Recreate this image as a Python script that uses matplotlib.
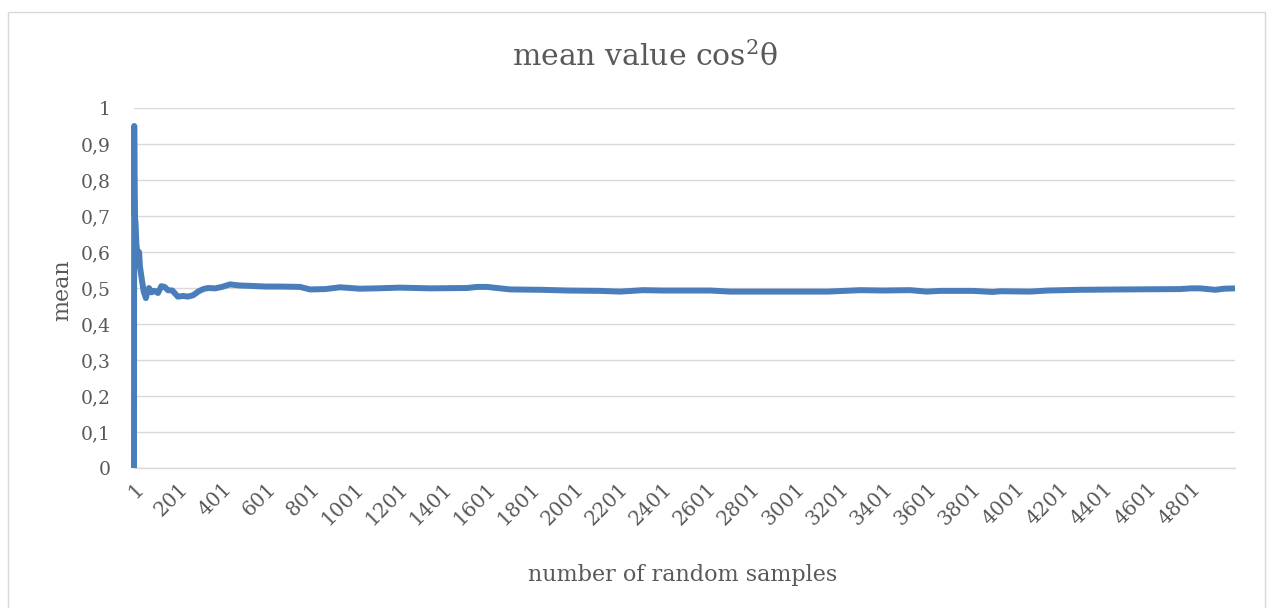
import matplotlib
matplotlib.use("Agg")
import matplotlib.pyplot as plt
from matplotlib.patches import Rectangle

# ---- data ----
samples = [1, 2, 3, 5, 8, 12, 16, 20, 24, 28, 35, 45, 55, 62, 69, 80, 95, 110,
           125, 140, 155, 175, 200, 225, 245, 270, 292, 315, 337, 370, 400, 437,
           480, 528, 600, 664, 755, 800, 870, 937, 1027, 1100, 1209, 1350, 1513,
           1560, 1604, 1709, 1850, 1967, 2117, 2208, 2313, 2400, 2495, 2617, 2708,
           2850, 3025, 3150, 3298, 3400, 3525, 3600, 3661, 3811, 3900, 3934, 4070,
           4150, 4297, 4500, 4751, 4800, 4842, 4910, 4950, 5000]
means = [0.0, 0.95, 0.82, 0.70, 0.68, 0.62, 0.60, 0.58, 0.60, 0.56, 0.53, 0.49,
         0.472, 0.49, 0.50, 0.488, 0.492, 0.486, 0.505, 0.503, 0.494, 0.493,
         0.476, 0.478, 0.476, 0.480, 0.490, 0.497, 0.500, 0.499, 0.503, 0.510,
         0.507, 0.506, 0.504, 0.504, 0.503, 0.496, 0.497, 0.502, 0.498, 0.499,
         0.501, 0.499, 0.500, 0.503, 0.503, 0.496, 0.495, 0.493, 0.492, 0.490,
         0.494, 0.493, 0.493, 0.493, 0.490, 0.490, 0.490, 0.490, 0.494, 0.493,
         0.494, 0.490, 0.492, 0.492, 0.489, 0.491, 0.490, 0.493, 0.495, 0.496,
         0.497, 0.499, 0.499, 0.495, 0.498, 0.499]
n_samples = 5000
xtick_values = list(range(1, 5000, 200))
ytick_values = [0, 0.1, 0.2, 0.3, 0.4, 0.5, 0.6, 0.7, 0.8, 0.9, 1.0]
ytick_labels = ["0", "0,1", "0,2", "0,3", "0,4", "0,5", "0,6", "0,7", "0,8", "0,9", "1"]

title = "mean value cos$^2$θ"
xlabel = "number of random samples"
ylabel = "mean"

# ---- styling ----
FONT = ["DejaVu Serif"]
TXT = "#595959"
GRID = "#D9D9D9"
LINE = "#4A7EBB"

plt.rcParams["font.family"] = FONT
plt.rcParams["mathtext.fontset"] = "dejavuserif"

fig = plt.figure(figsize=(12.7, 6.08), dpi=100)
fig.patches.append(Rectangle((8 / 1270, -0.01), 1257 / 1270, 1 - 12 / 608 + 0.01,
                             transform=fig.transFigure, fill=False,
                             edgecolor=GRID, linewidth=1.0))

ax = fig.add_axes([134 / 1270, 1 - 468 / 608, (1235 - 134) / 1270, 360 / 608])
ax.plot(samples, means, color=LINE, linewidth=4.3, solid_joinstyle="round",
        solid_capstyle="butt", zorder=3, clip_on=False)

ax.set_xlim(1, n_samples)
ax.set_ylim(0, 1)
ax.set_yticks(ytick_values)
ax.set_yticklabels(ytick_labels)
ax.set_xticks(xtick_values)
ax.set_xticklabels([str(v) for v in xtick_values], rotation=45, ha="right",
                   va="top", rotation_mode="anchor")
ax.tick_params(axis="both", length=0, colors=TXT)
ax.tick_params(axis="y", pad=17, labelsize=13.5)
ax.tick_params(axis="x", pad=8, labelsize=14.5)

ax.grid(axis="y", color=GRID, linewidth=1.0, zorder=0)
for s in ["top", "right", "left"]:
    ax.spines[s].set_visible(False)
ax.spines["bottom"].set_color(GRID)
ax.spines["bottom"].set_linewidth(1.0)

fig.text(645 / 1270, 1 - 57 / 608, title, ha="center", va="center",
         fontsize=21.5, color=TXT)
fig.text(683 / 1270, 1 - 575 / 608, xlabel, ha="center", va="center",
         fontsize=16, color=TXT)
fig.text(62 / 1270, 1 - 290 / 608, ylabel, ha="center", va="center",
         rotation=90, fontsize=16, color=TXT)

fig.savefig("out.png", dpi=100, facecolor="white")
